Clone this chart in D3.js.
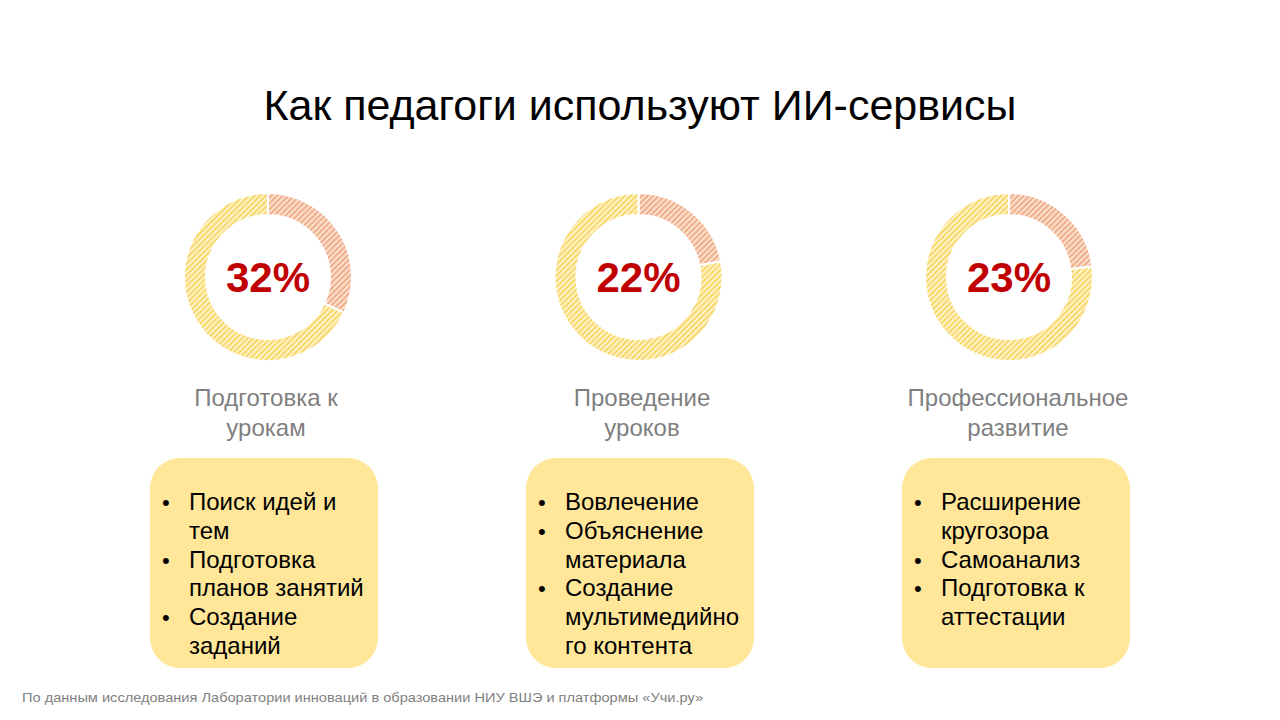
<!DOCTYPE html>
<html>
<head>
<meta charset="utf-8">
<script src="https://cdn.jsdelivr.net/npm/d3@7"></script>
<style>
  body { margin: 0; background: #fff; }
  svg { display: block; font-family: Arial, "Liberation Sans", sans-serif; }
</style>
</head>
<body>
<script>
// chart values
var title = "Как педагоги используют ИИ-сервисы";
var shares = [32, 22, 23];
var labelLines = [["Подготовка к", "урокам"], ["Проведение", "уроков"], ["Профессиональное", "развитие"]];
var bulletItems = [
  [["Поиск идей и", "тем"], ["Подготовка", "планов занятий"], ["Создание", "заданий"]],
  [["Вовлечение"], ["Объяснение", "материала"], ["Создание", "мультимедийно", "го контента"]],
  [["Расширение", "кругозора"], ["Самоанализ"], ["Подготовка к", "аттестации"]]
];
var note = "По данным исследования Лаборатории инноваций в образовании НИУ ВШЭ и платформы «Учи.ру»";

var width = 1280, height = 720;

var svg = d3.select("body").append("svg")
  .attr("width", width)
  .attr("height", height);

// hatch patterns
var defs = svg.append("defs");
function hatch(id, bg, fg) {
  var p = defs.append("pattern")
    .attr("id", id)
    .attr("patternUnits", "userSpaceOnUse")
    .attr("width", 4)
    .attr("height", 4)
    .attr("patternTransform", "rotate(45)");
  p.append("rect").attr("width", 4).attr("height", 4).attr("fill", bg);
  p.append("line")
    .attr("x1", 1).attr("y1", 0).attr("x2", 1).attr("y2", 4)
    .attr("stroke", fg).attr("stroke-width", 1.4);
}
hatch("hatchOrange", "#fbe0d0", "#ec9a6c");
hatch("hatchYellow", "#fff3c8", "#f5cb45");

svg.append("text")
  .attr("x", 640)
  .attr("y", 120)
  .attr("text-anchor", "middle")
  .attr("font-size", 43)
  .attr("fill", "#000")
  .text(title);

// donut centres and box left edges
var x = d3.scalePoint().domain(d3.range(shares.length)).range([268, 1009]);
var bxScale = d3.scalePoint().domain(d3.range(shares.length)).range([150, 902]);
var boxW = 228;
var cy = 277;

var pie = d3.pie().sort(null).value(function(d) { return d; });
var arc = d3.arc().innerRadius(62).outerRadius(84);

shares.forEach(function(v, i) {
  var g = svg.append("g").attr("transform", "translate(" + x(i) + "," + cy + ")");

  g.selectAll("path")
    .data(pie([v, 100 - v]))
    .enter().append("path")
    .attr("d", arc)
    .attr("fill", function(d, j) { return j === 0 ? "url(#hatchOrange)" : "url(#hatchYellow)"; })
    .attr("stroke", "#fff")
    .attr("stroke-width", 2);

  g.append("text")
    .attr("y", 15)
    .attr("text-anchor", "middle")
    .attr("font-size", 42)
    .attr("font-weight", "bold")
    .attr("fill", "#c00000")
    .text(v + "%");

  var bx = bxScale(i);

  // category label
  labelLines[i].forEach(function(line, k) {
    svg.append("text")
      .attr("x", bx + boxW / 2 + 2)
      .attr("y", 406 + k * 30)
      .attr("text-anchor", "middle")
      .attr("font-size", 24)
      .attr("fill", "#7f7f7f")
      .text(line);
  });

  // box with bullets
  svg.append("rect")
    .attr("x", bx)
    .attr("y", 458)
    .attr("width", boxW)
    .attr("height", 210)
    .attr("rx", 30)
    .attr("fill", "#ffe699");

  var row = 0;
  bulletItems[i].forEach(function(item) {
    item.forEach(function(line, k) {
      var yy = 510 + row * 28.8;
      if (k === 0) {
        svg.append("text")
          .attr("x", bx + 12)
          .attr("y", yy)
          .attr("font-size", 22)
          .attr("fill", "#000")
          .text("•");
      }
      svg.append("text")
        .attr("x", bx + 39)
        .attr("y", yy)
        .attr("font-size", 24)
        .attr("fill", "#000")
        .text(line);
      row++;
    });
  });
});

svg.append("text")
  .attr("x", 22)
  .attr("y", 702)
  .attr("font-size", 13)
  .attr("fill", "#7f7f7f")
  .attr("textLength", 681)
  .attr("lengthAdjust", "spacingAndGlyphs")
  .text(note);
</script>
</body>
</html>
